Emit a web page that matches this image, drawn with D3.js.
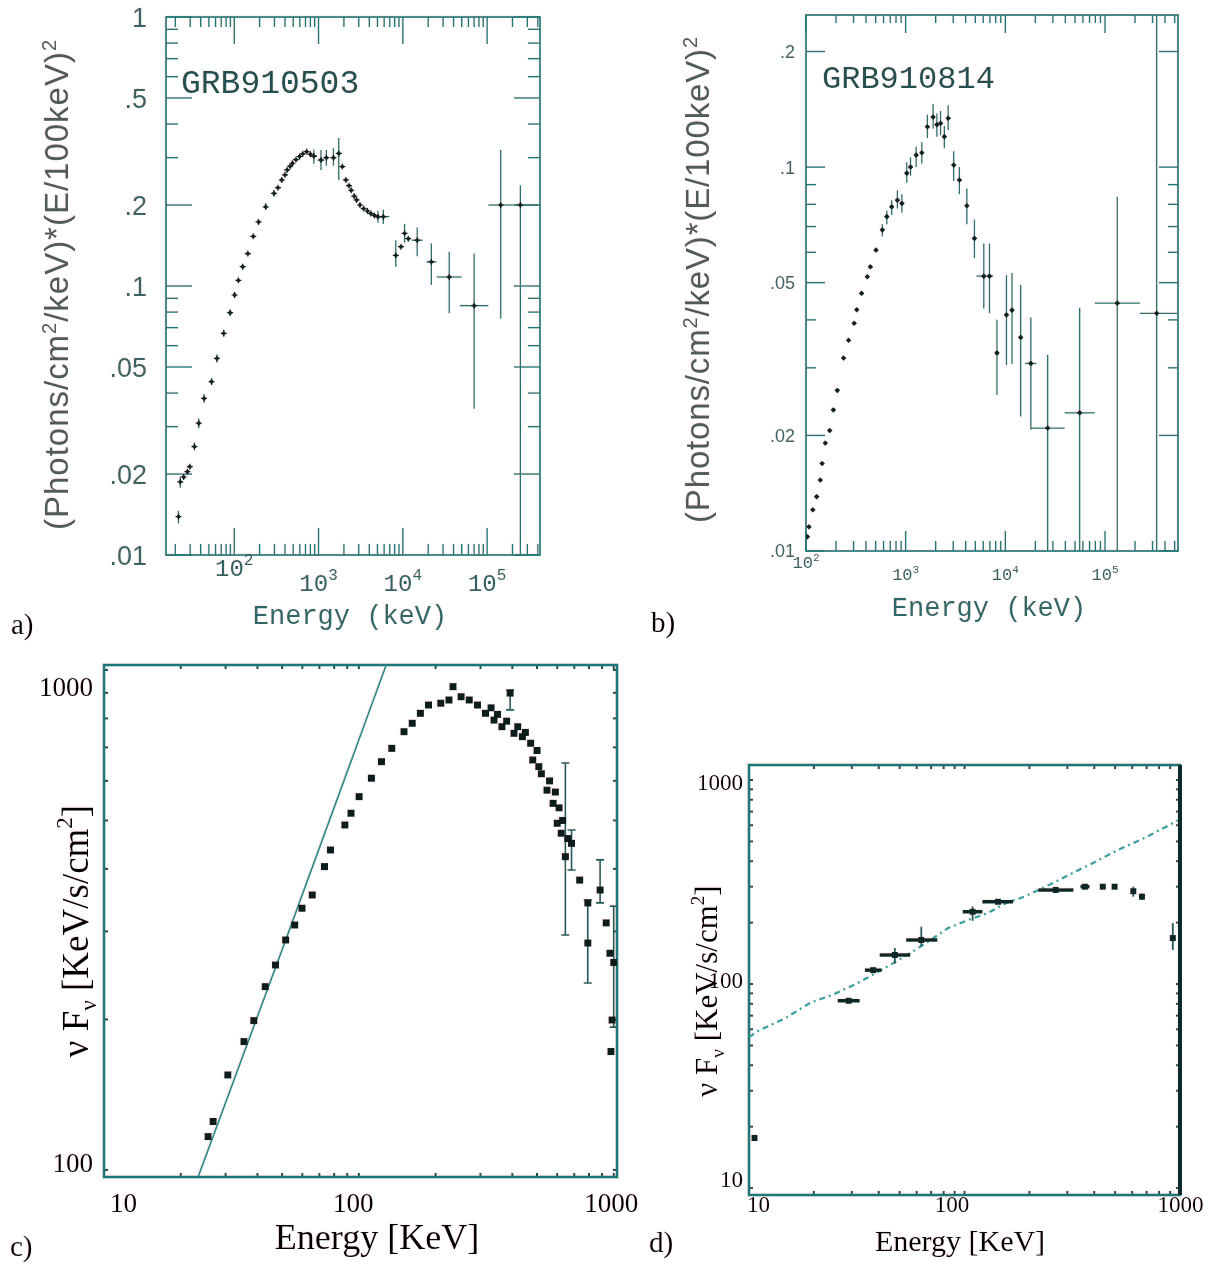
<!DOCTYPE html>
<html>
<head>
<meta charset="utf-8">
<script src="https://cdn.jsdelivr.net/npm/d3@7/dist/d3.min.js"></script>
<style>
html,body{margin:0;padding:0;background:#fff;}
svg{display:block;}
</style>
</head>
<body>
<svg id="fig" width="1208" height="1270" xmlns="http://www.w3.org/2000/svg"></svg>
<script>
// ====================== DATA ======================
// Panel a (GRB910503): [energy keV, flux, fluxLow, fluxHigh, energyLow, energyHigh]
const aPoints = [
 [21.8,0.0139,0.0131,0.0146,null,null],
 [22.9,0.0187,0.0178,0.0196,null,null],
 [25.1,0.0195,null,null,null,null],
 [27.8,0.0204,null,null,null,null],
 [29.7,0.0213,null,null,null,null],
 [33.7,0.0253,0.0245,0.0262,null,null],
 [37.9,0.0309,0.0296,0.0322,null,null],
 [43.9,0.0382,0.0368,0.0396,41.5,46.5],
 [53.8,0.0441,0.0428,0.0455,null,null],
 [62.3,0.0538,0.0520,0.0556,null,null],
 [75,0.0667,0.0648,0.0688,null,null],
 [89.3,0.0796,0.0775,0.0818,null,null],
 [101,0.0926,null,null,null,null],
 [112,0.105,null,null,null,null],
 [126,0.118,null,null,null,null],
 [145,0.132,null,null,null,null],
 [168,0.153,null,null,null,null],
 [194,0.173,null,null,null,null],
 [236,0.197,0.192,0.203,226,246],
 [296,0.221,0.215,0.227,283,309],
 [330,0.232,null,null,null,null],
 [366,0.248,null,null,null,null],
 [400,0.259,null,null,null,null],
 [424,0.270,null,null,null,null],
 [460,0.279,null,null,null,null],
 [491,0.286,null,null,null,null],
 [540,0.295,null,null,null,null],
 [596,0.303,null,null,null,null],
 [650,0.310,null,null,null,null],
 [724,0.316,null,null,null,null],
 [800,0.309,null,null,null,null],
 [880,0.304,0.285,0.322,800,960],
 [1069,0.294,0.270,0.320,980,1160],
 [1237,0.300,0.280,0.320,1160,1320],
 [1502,0.300,0.280,0.325,1400,1610],
 [1738,0.311,0.248,0.355,null,null],
 [1915,0.278,null,null,null,null],
 [2112,0.248,null,null,null,null],
 [2300,0.236,null,null,null,null],
 [2443,0.227,null,null,null,null],
 [2650,0.216,null,null,null,null],
 [2827,0.209,null,null,null,null],
 [3100,0.200,null,null,null,null],
 [3434,0.194,null,null,null,null],
 [3800,0.190,null,null,null,null],
 [4170,0.186,null,null,null,null],
 [4600,0.183,null,null,null,null],
 [5070,0.181,0.172,0.190,4600,5600],
 [5870,0.181,0.170,0.192,5000,6900],
 [8250,0.130,0.118,0.148,null,null],
 [9500,0.140,null,null,null,null],
 [10500,0.157,0.145,0.170,null,null],
 [11600,0.150,null,null,null,null],
 [14800,0.148,0.129,0.165,12700,17200],
 [21800,0.123,0.101,0.144,19000,25000],
 [35500,0.108,0.0792,0.134,25300,50000],
 [70100,0.0845,0.035,0.132,47500,103500],
 [145000,0.200,0.0757,0.320,103500,205000],
 [248000,0.200,0.0095,0.237,205000,405000]
];
const aYTickValues = [0.01,0.02,0.05,0.1,0.2,0.5,1];
const aYTickLabels = ['.01','.02','.05','.1','.2','.5','1'];
const aXTickValues = [1e2,1e3,1e4,1e5];
const aXTickExp = ['2','3','4','5'];
const aTitle = 'GRB910503';

// Panel b (GRB910814): [energy keV, flux, fluxLow, fluxHigh, energyLow, energyHigh]
const bPoints = [
 [103,0.0109,null,null,null,null],
 [107,0.01156,null,null,null,null],
 [117,0.0128,null,null,null,null],
 [128,0.01385,null,null,null,null],
 [139,0.0153,null,null,null,null],
 [145,0.0169,null,null,null,null],
 [156,0.0191,null,null,null,null],
 [173,0.0206,null,null,null,null],
 [188,0.0233,null,null,null,null],
 [206,0.0262,null,null,null,null],
 [238,0.0318,null,null,null,null],
 [267,0.0354,null,null,null,null],
 [304,0.0392,null,null,null,null],
 [323,0.0425,null,null,null,null],
 [361,0.0469,null,null,null,null],
 [412,0.0518,null,null,null,null],
 [442,0.0550,null,null,null,null],
 [504,0.0608,null,null,null,null],
 [583,0.0686,0.066,0.071,null,null],
 [647,0.0743,0.071,0.077,null,null],
 [724,0.0788,0.075,0.082,null,null],
 [826,0.0820,0.078,0.087,null,null],
 [916,0.0804,0.076,0.085,null,null],
 [1026,0.0964,0.091,0.103,null,null],
 [1119,0.1000,0.095,0.106,null,null],
 [1274,0.1075,0.100,0.113,null,null],
 [1452,0.1090,0.102,0.116,null,null],
 [1652,0.1273,0.119,0.137,null,null],
 [1884,0.1350,0.126,0.146,null,null],
 [2056,0.1290,0.120,0.138,null,null],
 [2239,0.1300,0.121,0.140,null,null],
 [2443,0.1200,0.112,0.128,null,null],
 [2667,0.1340,0.125,0.145,null,null],
 [3034,0.1012,0.092,0.110,null,null],
 [3459,0.0925,0.085,0.100,null,null],
 [4111,0.0793,0.071,0.088,null,null],
 [4898,0.0652,0.058,0.073,null,null],
 [6081,0.0520,0.0428,0.0632,5120,7550],
 [6934,0.0520,0.0416,0.0632,null,null],
 [8240,0.0328,0.0255,0.0400,null,null],
 [10260,0.0412,0.0305,0.0523,null,null],
 [11670,0.0424,0.0307,0.0530,null,null],
 [14260,0.0360,0.0224,0.0493,null,null],
 [18030,0.0308,0.0207,0.0406,15800,20500],
 [26600,0.0209,0.0095,0.0324,18030,39360],
 [55700,0.0229,0.0095,0.0430,39360,78900],
 [132700,0.0442,0.0095,0.0837,78900,223900],
 [330000,0.0416,0.0095,0.2600,223900,533000]
];
const bYTickValues = [0.01,0.02,0.05,0.1,0.2];
const bYTickLabels = ['.01','.02','.05','.1','.2'];
const bXTickValues = [1e2,1e3,1e4,1e5];
const bXTickExp = ['2','3','4','5'];
const bTitle = 'GRB910814';

// Panel c: [energy keV, nuFnu, low, high]
const cPoints = [
 [25.6,116.6,null,null],[26.8,125,null,null],[30.6,154.9,null,null],[35.4,180.6,null,null],
 [38.7,198.9,null,null],[42.9,232.6,null,null],[47.1,257,null,null],[51.6,288.4,null,null],
 [56,309,null,null],[59.8,333.8,null,null],[65.6,354.8,null,null],[73.3,404.3,null,null],
 [77.4,436.5,null,null],[88.1,489.8,null,null],[93.1,517,null,null],[100.2,558,null,null],
 [112,607.5,null,null],[122.7,655.5,null,null],[134.6,697,null,null],[150.3,752.6,null,null],
 [161.9,782.3,null,null],[174.3,819,null,null],[187.6,851,null,null],[209.5,858,null,null],
 [225.6,871,null,null],[234,926,null,null],[251.8,884,null,null],[271,871,null,null],
 [292,851,null,null],[314,819,null,null],[330,840,null,null],[339,794,null,null],
 [350,815,null,null],[364,770,null,null],[380,790,null,null],[392,899,832,912],
 [406,747,null,null],[420,770,null,null],[438,735.5,null,null],[450,750,null,null],
 [472,713.5,null,null],[481,660.7,null,null],[500,690,null,null],[508,640.6,null,null],
 [520,620,null,null],[547,575,null,null],[560,600,null,null],[578,541,null,null],
 [590,570,null,null],[600,493.6,null,null],[610,530,null,null],[622,471.5,null,null],
 [630,500,null,null],[646,423.2,295,651.6],[660,460,null,null],[683,450,398,478.6],
 [735,380,null,null],[791,342,null,null],[791,284.4,236.6,346.7],[884,363,342,417],
 [934,312,null,null],[966,271.3,null,null],[985,199.5,null,null],[975,172.5,null,null],
 [1000,260,193,337]
];
const cPowerLaw = [[23.4,96.8],[51.6,288],[128,1023]];
const cXTickValues = [10,100,1000];
const cYTickValues = [100,1000];

// Panel d: model curve [energy, nuFnu] and data bins [E, nuFnu, Elo, Ehi, low, high]
const dModel = [
 [10,55],[11.2,59.5],[13.1,64.1],[14.7,67.9],[19.2,80.8],[24.3,88.4],[31.9,101],[38.7,113],
 [47,127],[59.3,147],[66.4,159],[84,188],[104,206],[128.5,223],[156,249.5],[189,268],
 [221,289],[258,313],[326,355],[395,392],[516,454],[703,527],[925,614],[1000,640]
];
const dBins = [
 [29,82.8,25.8,32.6,null,null],
 [37.7,117,34.5,41.2,null,null],
 [47.5,138.8,40.4,56,126,150],
 [63,164.4,53.6,74.8,153,191],
 [109,226,98.1,121,204,240],
 [143,253,121,168,null,null],
 [265,289,220,320,null,null],
 [362,300,345,380,null,null],
 [438,300,426,450,null,null],
 [497,300,490,505,null,null],
 [607,285,null,null,268,300],
 [666,268,null,null,258,278],
 [926,168,null,null,147,199],
 [10.6,17.6,null,null,null,null]
];
const dXTickValues = [10,100,1000];
const dYTickValues = [10,100,1000];

// ====================== DRAWING ======================
const TEAL = '#1f7777', INK = '#102020', ETEAL = '#256f6f';
const svg = d3.select('#fig');
const defs = svg.append('defs');
const flt = defs.append('filter').attr('id','fringe')
  .attr('x',-0.01).attr('y',-0.01).attr('width',1.02).attr('height',1.02);
flt.append('feColorMatrix').attr('in','SourceAlpha').attr('type','matrix')
  .attr('values','0 0 0 0 1  0 0 0 0 0.5  0 0 0 0 0.5  0 0 0 0.25 0').attr('result','pink');
flt.append('feOffset').attr('in','pink').attr('dx',-1.5).attr('dy',-1).attr('result','pinkOff');
const mg = flt.append('feMerge');
mg.append('feMergeNode').attr('in','pinkOff');
mg.append('feMergeNode').attr('in','SourceGraphic');

const root = svg.append('g').attr('filter','url(#fringe)');
const near = (a,b) => Math.abs(a-b)/Math.abs(b) < 1e-6;

function drawAB(cfg){
  const g = root.append('g');
  const x = d3.scaleLog().domain(cfg.xDomain).range(cfg.xRange);
  const y = d3.scaleLog().domain(cfg.yDomain).range(cfg.yRange);
  const [L,R] = cfg.xRange, [B,T] = cfg.yRange;
  const clipId = cfg.id + '-clip';
  defs.append('clipPath').attr('id',clipId).append('rect')
    .attr('x',L).attr('y',T).attr('width',R-L).attr('height',B-T);

  // ticks
  const yT = y.ticks().filter(v => v >= cfg.yDomain[0]*0.9999 && v <= cfg.yDomain[1]*1.0001);
  const yLen = v => cfg.yTickValues.some(t => near(v,t)) ? cfg.yMajor : cfg.yMinor;
  const tk = g.append('g').attr('stroke',TEAL).attr('stroke-width',1.4);
  tk.selectAll('line.yl').data(yT).join('line').attr('class','yl')
    .attr('x1',L).attr('x2',v=>L+yLen(v)).attr('y1',v=>y(v)).attr('y2',v=>y(v));
  tk.selectAll('line.yr').data(yT).join('line').attr('class','yr')
    .attr('x1',R).attr('x2',v=>R-yLen(v)).attr('y1',v=>y(v)).attr('y2',v=>y(v));
  const xT = x.ticks().filter(v => v >= cfg.xDomain[0] && v <= cfg.xDomain[1]);
  const isDec = v => near(Math.pow(10,Math.round(Math.log10(v))), v);
  tk.selectAll('line.xb').data(xT).join('line').attr('class','xb')
    .attr('x1',v=>x(v)).attr('x2',v=>x(v)).attr('y1',B).attr('y2',v=>B-(isDec(v)?cfg.xMajor:cfg.xMinor));
  tk.selectAll('line.xt').data(xT).join('line').attr('class','xt')
    .attr('x1',v=>x(v)).attr('x2',v=>x(v)).attr('y1',T).attr('y2',v=>T+(isDec(v)?cfg.xMajorTop:cfg.xMinorTop));

  g.append('rect').attr('x',L).attr('y',T).attr('width',R-L).attr('height',B-T)
    .attr('fill','none').attr('stroke',TEAL).attr('stroke-width',1.7);

  // tick labels
  g.append('g').selectAll('text').data(cfg.yTickValues).join('text')
    .attr('x',cfg.yLabelX).attr('y',v=>y(v)).attr('dy','0.36em').attr('text-anchor','end')
    .attr('font-family','Liberation Sans, Arial, sans-serif').attr('font-size',cfg.yLabelSize)
    .attr('fill','#3a6464').text((v,i)=>cfg.yTickLabels[i]);
  const xl = g.append('g').selectAll('text').data(cfg.xTickValues).join('text')
    .attr('x',v=>x(v)).attr('y',(v,i)=>cfg.xLabelY[i]).attr('text-anchor','middle')
    .attr('font-family','Liberation Mono, Courier New, monospace').attr('font-size',cfg.xLabelSize)
    .attr('fill','#2e6262');
  xl.append('tspan').text('10');
  xl.append('tspan').attr('dy',-cfg.expRise).attr('font-size',cfg.expSize).text((v,i)=>cfg.xTickExp[i]);

  // titles
  g.append('text').attr('x',cfg.titleX).attr('y',cfg.titleY)
    .attr('font-family','Liberation Mono, Courier New, monospace').attr('font-size',cfg.titleSize)
    .attr('fill','#244f4f').text(cfg.title);
  g.append('text').attr('x',cfg.xTitleX).attr('y',cfg.xTitleY).attr('text-anchor','middle')
    .attr('font-family','Liberation Mono, Courier New, monospace').attr('font-size',27)
    .attr('fill','#2f6767').text('Energy (keV)');
  const yt = g.append('text')
    .attr('transform',`translate(${cfg.yTitleX},${cfg.yTitleY}) rotate(-90)`)
    .attr('text-anchor','middle').attr('font-family','Liberation Sans, Arial, sans-serif')
    .attr('font-size',33).attr('fill','#4f5a5a')
    .attr('textLength',cfg.yTitleLen).attr('lengthAdjust','spacing');
  yt.append('tspan').text('(Photons/cm');
  yt.append('tspan').attr('dy',-12).attr('font-size',20).text('2');
  yt.append('tspan').attr('dy',12).text('/keV)*(E/100keV)');
  yt.append('tspan').attr('dy',-12).attr('font-size',20).text('2');

  // data
  const rows = cfg.points.map(p => ({E:p[0],v:p[1],lo:p[2],hi:p[3],el:p[4],eh:p[5]}));
  const dg = g.append('g').attr('clip-path',`url(#${clipId})`);
  dg.selectAll('line.ey').data(rows.filter(r=>r.lo!=null)).join('line').attr('class','ey')
    .attr('x1',r=>x(r.E)).attr('x2',r=>x(r.E)).attr('y1',r=>y(r.lo)).attr('y2',r=>y(r.hi))
    .attr('stroke',ETEAL).attr('stroke-width',1.3);
  dg.selectAll('line.ex').data(rows.filter(r=>r.el!=null)).join('line').attr('class','ex')
    .attr('x1',r=>x(r.el)).attr('x2',r=>x(r.eh)).attr('y1',r=>y(r.v)).attr('y2',r=>y(r.v))
    .attr('stroke',ETEAL).attr('stroke-width',1.3);
  dg.selectAll('path.mk').data(rows).join('path').attr('class','mk')
    .attr('d',r=>{const cx=x(r.E), cy=y(r.v), s=cfg.cross;
      return `M${cx-s},${cy}H${cx+s}M${cx},${cy-s}V${cy+s}`;})
    .attr('stroke',INK).attr('stroke-width',1.2).attr('fill','none');
  dg.selectAll('circle').data(rows).join('circle')
    .attr('cx',r=>x(r.E)).attr('cy',r=>y(r.v)).attr('r',cfg.dotR).attr('fill',INK);
}

function drawCD(cfg){
  const g = root.append('g');
  const x = d3.scaleLog().domain(cfg.xDomain).range(cfg.xRange);
  const y = d3.scaleLog().domain(cfg.yDomain).range(cfg.yRange);
  const [L,R] = cfg.xRange, [B,T] = cfg.yRange;
  const clipId = cfg.id + '-clip';
  defs.append('clipPath').attr('id',clipId).append('rect')
    .attr('x',L).attr('y',T).attr('width',R-L).attr('height',B-T);

  const tk = g.append('g').attr('stroke','#1c4d4d').attr('stroke-width',2);
  const xT = x.ticks().filter(v => v > cfg.xDomain[0]*1.001 && v < cfg.xDomain[1]*0.999);
  const yT = y.ticks().filter(v => v > cfg.yDomain[0]*1.001 && v < cfg.yDomain[1]*0.999);
  tk.selectAll('line.xb').data(xT).join('line').attr('class','xb')
    .attr('x1',v=>x(v)).attr('x2',v=>x(v)).attr('y1',B).attr('y2',B-4);
  tk.selectAll('line.xt').data(xT).join('line').attr('class','xt')
    .attr('x1',v=>x(v)).attr('x2',v=>x(v)).attr('y1',T).attr('y2',T+4);
  tk.selectAll('line.yl').data(yT).join('line').attr('class','yl')
    .attr('x1',L).attr('x2',L+4).attr('y1',v=>y(v)).attr('y2',v=>y(v));
  tk.selectAll('line.yr').data(yT).join('line').attr('class','yr')
    .attr('x1',R).attr('x2',R-4).attr('y1',v=>y(v)).attr('y2',v=>y(v));

  g.append('rect').attr('x',L).attr('y',T).attr('width',R-L).attr('height',B-T)
    .attr('fill','none').attr('stroke',TEAL).attr('stroke-width',2.6);

  // tick labels via axes
  const xAxis = d3.axisBottom(x).tickValues(cfg.xTickValues).tickSize(0).tickFormat(d3.format('d'));
  const xa = g.append('g').attr('transform',`translate(0,${cfg.xLabelBase})`).call(xAxis);
  xa.select('.domain').remove();
  xa.selectAll('text').attr('y',0).attr('dy',0).attr('dx',(v,i)=>cfg.xLabelDx[i])
    .attr('font-family','Liberation Serif, Times New Roman, serif').attr('font-size',cfg.tickSize).attr('fill','#000');
  const yAxis = d3.axisLeft(y).tickValues(cfg.yTickValues).tickSize(0).tickFormat(d3.format('d'));
  const ya = g.append('g').attr('transform',`translate(${cfg.yLabelRight},0)`).call(yAxis);
  ya.select('.domain').remove();
  ya.selectAll('text').attr('x',0).attr('dy',(v,i)=>cfg.yLabelDy[i])
    .attr('font-family','Liberation Serif, Times New Roman, serif').attr('font-size',cfg.tickSize).attr('fill','#000');

  // titles
  g.append('text').attr('x',cfg.xTitleX).attr('y',cfg.xTitleY).attr('text-anchor','middle')
    .attr('font-family','Liberation Serif, Times New Roman, serif').attr('font-size',cfg.xTitleSize)
    .attr('fill','#000').text('Energy [KeV]');
  const fs = cfg.yTitleSize;
  const yt = g.append('text').attr('transform',`translate(${cfg.yTitleX},${cfg.yTitleY}) rotate(-90)`)
    .attr('text-anchor','middle').attr('font-family','Liberation Serif, Times New Roman, serif')
    .attr('font-size',fs).attr('fill','#000');
  yt.append('tspan').text('ν F');
  yt.append('tspan').attr('dy',fs*0.22).attr('font-size',fs*0.62).text('ν');
  yt.append('tspan').attr('dy',-fs*0.22).text(' [KeV/s/cm');
  yt.append('tspan').attr('dy',-fs*0.42).attr('font-size',fs*0.62).text('2');
  yt.append('tspan').attr('dy',fs*0.42).text(']');

  const dg = g.append('g').attr('clip-path',`url(#${clipId})`);
  return {g:dg, x, y, L, R, T, B};
}

// ---------- panel a ----------
drawAB({
  id:'pa', points:aPoints, title:aTitle,
  xDomain:[15.5,4.24e5], xRange:[166,540], yDomain:[0.01,1], yRange:[555,17],
  yTickValues:aYTickValues, yTickLabels:aYTickLabels, xTickValues:aXTickValues, xTickExp:aXTickExp,
  yMajor:26, yMinor:12, xMajor:27, xMinor:11, xMajorTop:27, xMinorTop:10,
  yLabelX:147, yLabelSize:27, xLabelY:[576,591,591,591], xLabelSize:24, expSize:16, expRise:11,
  titleX:181, titleY:93, titleSize:33, xTitleX:350, xTitleY:624,
  yTitleX:68, yTitleY:285, yTitleLen:490, cross:3, dotR:1.9
});
// ---------- panel b ----------
drawAB({
  id:'pb', points:bPoints, title:bTitle,
  xDomain:[100,5.4e5], xRange:[806,1178], yDomain:[0.01,0.249], yRange:[551,15],
  yTickValues:bYTickValues, yTickLabels:bYTickLabels, xTickValues:bXTickValues, xTickExp:bXTickExp,
  yMajor:19, yMinor:10, xMajor:20, xMinor:10, xMajorTop:18, xMinorTop:8,
  yLabelX:795, yLabelSize:18, xLabelY:[568,580,580,580], xLabelSize:17, expSize:11, expRise:7,
  titleX:822, titleY:88, titleSize:32, xTitleX:989, xTitleY:616,
  yTitleX:709, yTitleY:280, yTitleLen:486, cross:2.5, dotR:2.1
});

// ---------- panel c ----------
const pc = drawCD({
  id:'pc', xDomain:[10,1030], xRange:[104,617], yDomain:[96.8,1023], yRange:[1177,665],
  xTickValues:cXTickValues, yTickValues:cYTickValues, xLabelBase:1212, xLabelDx:[19,-6,-3],
  yLabelRight:93, yLabelDy:['0.04em','0.96em'], tickSize:27,
  xTitleX:377, xTitleY:1249, xTitleSize:36, yTitleX:88, yTitleY:931, yTitleSize:37
});
pc.g.append('path').datum(cPowerLaw)
  .attr('d', d3.line().x(d=>pc.x(d[0])).y(d=>pc.y(d[1])).curve(d3.curveMonotoneX))
  .attr('fill','none').attr('stroke','#2a8a8a').attr('stroke-width',1.7);
const cRows = cPoints.map(p=>({E:p[0],v:p[1],lo:p[2],hi:p[3]}));
pc.g.selectAll('line.ce').data(cRows.filter(r=>r.lo!=null)).join('line').attr('class','ce')
  .attr('x1',r=>pc.x(r.E)).attr('x2',r=>pc.x(r.E)).attr('y1',r=>pc.y(r.lo)).attr('y2',r=>pc.y(r.hi))
  .attr('stroke','#1d5c5c').attr('stroke-width',1.6);
pc.g.selectAll('path.cc').data(cRows.filter(r=>r.lo!=null)).join('path').attr('class','cc')
  .attr('d',r=>{const cx=pc.x(r.E); return `M${cx-4},${pc.y(r.lo)}H${cx+4}M${cx-4},${pc.y(r.hi)}H${cx+4}`;})
  .attr('stroke','#1d5c5c').attr('stroke-width',1.6);
pc.g.selectAll('rect.cp').data(cRows).join('rect').attr('class','cp')
  .attr('x',r=>pc.x(r.E)-3.5).attr('y',r=>pc.y(r.v)-3.5).attr('width',7).attr('height',7)
  .attr('fill','#0c1a1a');

// ---------- panel d ----------
const pd = drawCD({
  id:'pd', xDomain:[10,1000], xRange:[749,1180], yDomain:[9.25,1184], yRange:[1195,765],
  xTickValues:dXTickValues, yTickValues:dYTickValues, xLabelBase:1212, xLabelDx:[9,-13,0],
  yLabelRight:743, yLabelDy:['-0.09em','0.16em','0.42em'], tickSize:23,
  xTitleX:960, xTitleY:1251, xTitleSize:30, yTitleX:717, yTitleY:991, yTitleSize:31
});
pd.g.append('path').datum(dModel)
  .attr('d', d3.line().x(d=>pd.x(d[0])).y(d=>pd.y(d[1])))
  .attr('fill','none').attr('stroke','#33a0a0').attr('stroke-width',2.2)
  .attr('stroke-dasharray','6,4,2,4');
const dRows = dBins.map(p=>({E:p[0],v:p[1],el:p[2],eh:p[3],lo:p[4],hi:p[5]}));
pd.g.selectAll('line.dh').data(dRows.filter(r=>r.el!=null)).join('line').attr('class','dh')
  .attr('x1',r=>pd.x(r.el)).attr('x2',r=>pd.x(r.eh)).attr('y1',r=>pd.y(r.v)).attr('y2',r=>pd.y(r.v))
  .attr('stroke','#0f2727').attr('stroke-width',3.5);
pd.g.selectAll('line.dv').data(dRows.filter(r=>r.lo!=null)).join('line').attr('class','dv')
  .attr('x1',r=>pd.x(r.E)).attr('x2',r=>pd.x(r.E)).attr('y1',r=>pd.y(r.lo)).attr('y2',r=>pd.y(r.hi))
  .attr('stroke','#1d5c5c').attr('stroke-width',1.8);
pd.g.selectAll('rect.dp').data(dRows).join('rect').attr('class','dp')
  .attr('x',r=>pd.x(r.E)-3).attr('y',r=>pd.y(r.v)-3).attr('width',6).attr('height',6)
  .attr('fill','#0f2727');
root.append('line').attr('x1',pd.R).attr('x2',pd.R).attr('y1',pd.T).attr('y2',pd.B)
  .attr('stroke','#0f2a2a').attr('stroke-width',4);

// ---------- panel letters ----------
const letters = [['a)',11,634],['b)',651,632],['c)',10,1256],['d)',649,1252]];
root.append('g').selectAll('text').data(letters).join('text')
  .attr('x',d=>d[1]).attr('y',d=>d[2])
  .attr('font-family','Liberation Serif, Times New Roman, serif').attr('font-size',29).attr('fill','#000')
  .text(d=>d[0]);
</script>
</body>
</html>
